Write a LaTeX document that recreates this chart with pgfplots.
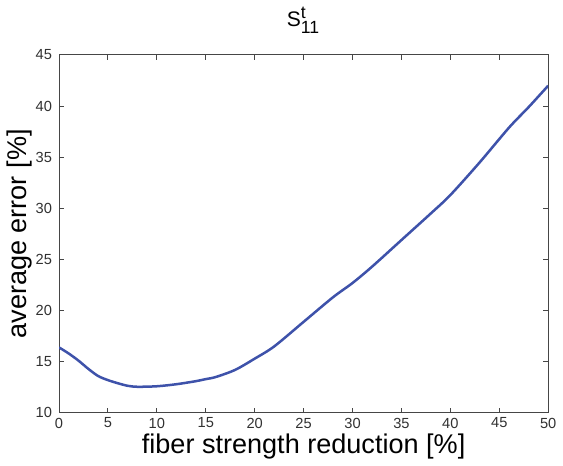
\documentclass[border=0pt]{standalone}
\usepackage{fontspec}
\setmainfont{Liberation Sans}
\usepackage{amsmath}
\usepackage{pgfplots}
\pgfplotsset{compat=1.18}
\definecolor{curve}{RGB}{62,82,170}
\definecolor{axisgray}{RGB}{70,70,70}

\begin{document}
\begin{tikzpicture}
\begin{axis}[
    width=244pt, height=178.5pt,
    scale only axis,
    xmin=0, xmax=50,
    ymin=10, ymax=45,
    xtick={0,5,...,50},
    ytick={10,15,...,45},
    tick align=inside,
    major tick length=2.5pt,
    axis line style={axisgray, line width=0.5pt},
    tick style={axisgray, line width=0.5pt},
    /pgf/number format/assume math mode=true,
    tick label style={font=\fontsize{7.3}{9}\selectfont, text=axisgray!70!black},
    xticklabel style={yshift=1pt},
    label style={font=\fontsize{13.5}{15}\selectfont},
    xlabel={fiber strength reduction [\%]},
    ylabel={average error [\%]},
    xlabel style={yshift=4pt},
    ylabel style={yshift=-5pt},
    title={S$^{\text{\fontsize{8.8}{9}\selectfont t}}_{\text{\fontsize{8.8}{9}\selectfont 11}}$},
    title style={font=\fontsize{10.5}{12}\selectfont, yshift=1pt},
]
\addplot[curve, line width=1.25pt, smooth] coordinates {
    (0,16.4) (1,15.8) (2,15.1) (3,14.3) (4,13.6) (5,13.2) (6,12.9)
    (7,12.65) (8,12.55) (10,12.6) (12,12.8) (14,13.1) (15,13.3)
    (16,13.5) (18,14.2) (20,15.3) (22,16.5) (25,18.9) (28,21.3)
    (30,22.7) (32,24.3) (35,26.9) (38,29.5) (40,31.3) (43,34.5)
    (46,37.9) (48,39.9) (50,42.0)
};
\end{axis}
\end{tikzpicture}
\end{document}
